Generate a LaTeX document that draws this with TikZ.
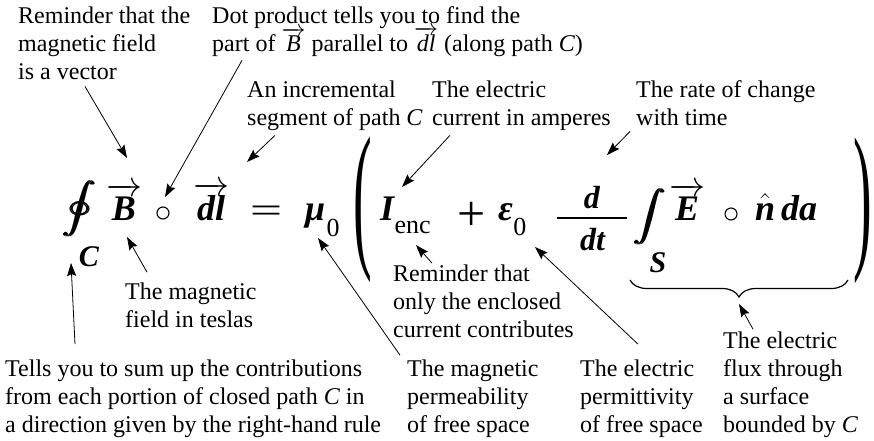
\RequirePackage{fix-cm}
\documentclass[tikz,border=0pt]{standalone}
\usepackage{amsmath}
\usepackage{graphicx}
\usepackage{fontspec}
\setmainfont{Liberation Serif}
\usepackage{tikz}
\usetikzlibrary{arrows.meta,calc,decorations.pathreplacing}

\newcommand{\notesize}{\fontsize{24}{28}\selectfont}
\newcommand{\eqsize}{\fontsize{36}{40}\selectfont}
\newcommand{\idxsize}{\fontsize{26}{28}\selectfont}
\newcommand{\bfit}[1]{\textbf{\textit{#1}}}

\begin{document}
\begin{tikzpicture}[x=1pt, y=-1pt, >={Stealth[length=13pt,width=9pt,inset=2pt]},
  note/.style={font=\notesize, align=left, inner sep=0pt, anchor=base west},
  sym/.style={font=\eqsize, inner sep=0pt, anchor=base},
  idx/.style={font=\idxsize, inner sep=0pt, anchor=base west},
  ring/.style={circle, draw, line width=1.1pt, minimum size=12pt, inner sep=0pt},
  call/.style={->, line width=0.8pt},
]
\useasboundingbox (0,0) rectangle (874,441);

% the equation
\node[inner sep=0pt, font=\fontsize{33}{36}\selectfont] (oint) at (80,209) {\scalebox{1.35}[1]{$\displaystyle\pmb{\oint}$}};
\node[sym, font=\fontsize{30}{32}\selectfont] (C) at (89,266) {\bfit{C}};
\node[sym] (B) at (124,220) {$\overrightarrow{\mbox{\bfit{B}}}$};
\node[ring] (dot1) at (163,213) {};
\node[sym] (dl) at (211,220) {$\overrightarrow{\mbox{\bfit{dl}}}$};
\node[inner sep=0pt] (eq) at (266,214) {\scalebox{1.6}[1]{\eqsize=}};
\node[sym, anchor=base west] (mu) at (305,220) {\bfit{μ}};
\node[idx] (mu0) at ($(mu.base east)+(1,16)$) {0};
\node[inner sep=0pt] (lpar) at (363,210) {\scalebox{0.8}[2.3]{\fontsize{70}{70}\selectfont(}};
\node[sym, anchor=base west] (I) at (380,220) {\bfit{I}};
\node[idx] (enc) at ($(I.base east)+(-1,13)$) {enc};
\node[inner sep=0pt, font=\fontsize{50}{50}\selectfont] (plus) at (472,216) {+};
\node[sym, anchor=base west] (eps) at (498,220) {\bfit{ε}};
\node[idx] (eps0) at ($(eps.base east)+(0,15)$) {0};
\node[sym, font=\fontsize{32}{34}\selectfont] (dnum) at (592,208) {\bfit{d}};
\node[inner sep=0pt] (bar) at (592,218) {\rule{70pt}{1.5pt}};
\node[sym, font=\fontsize{32}{34}\selectfont] (dden) at (593,250) {\bfit{dt}};
\node[inner sep=0pt, font=\fontsize{35}{38}\selectfont] (int) at (651,217) {\scalebox{1.3}[1]{$\displaystyle\pmb{\int}$}};
\node[sym, font=\fontsize{30}{32}\selectfont] (S) at (658,272) {\bfit{S}};
\node[sym] (E) at (687,220) {$\overrightarrow{\mbox{\bfit{E}}}$};
\node[ring] (dot2) at (731,214) {};
\node[sym] (nhat) at (765,220) {$\hat{\mbox{\bfit{n}}}$};
\node[sym, anchor=base west] (da) at (781,220) {\bfit{da}};
\node[inner sep=0pt] (rpar) at (863,211) {\scalebox{0.8}[2.3]{\fontsize{70}{70}\selectfont)}};

% brace under the flux term
\coordinate (bl) at (630,280);
\coordinate (br) at (848,280);
\coordinate (bt) at (739,298);
\draw[decorate, decoration={brace, mirror, amplitude=17pt}, line width=1.2pt] (bl) -- (br);

% notes (anchored at the baseline of their last line)
\node[note] (remind) at (18,80) {Reminder that the\\magnetic field\\is a vector};
\node[note] (dotprod) at (212,52) {Dot product tells you to find the\\part of $\smash{\overrightarrow{\mbox{\itshape B}}}$ parallel to $\smash{\overrightarrow{\mbox{\itshape dl}}}$ (along path \textit{C})};
\node[note] (incr) at (247,125) {An incremental\\segment of path \textit{C}};
\node[note] (curr) at (432,125) {The electric\\current in amperes};
\node[note] (rate) at (636,125) {The rate of change\\with time};
\node[note] (magB) at (125,327) {The magnetic\\field in teslas};
\node[note] (encl) at (393,337) {Reminder that\\only the enclosed\\current contributes};
\node[note] (tells) at (5,432) {Tells you to sum up the contributions\\from each portion of closed path \textit{C} in\\a direction given by the right-hand rule};
\node[note] (permea) at (407,432) {The magnetic\\permeability\\of free space};
\node[note] (permit) at (580,432) {The electric\\permittivity\\of free space};
\node[note] (flux) at (723,432) {The electric\\flux through\\a surface\\bounded by \textit{C}};

% callouts
\draw[call] ($(remind.south west)+(67,6)$) -- ($(B.base)+(3,-62)$);
\draw[call] ($(dotprod.south west)+(30,3)$) -- ($(dot1.center)+(2,-16)$);
\draw[call] ($(incr.south west)+(28,5)$) -- ($(dl.base)+(36,-58)$);
\draw[call] ($(curr.south west)+(18,5)$) -- ($(I.base west)+(22,-33)$);
\draw[call] ($(rate.south west)+(-6,6)$) -- ($(dnum.base)+(15,-53)$);
\draw[call] ($(magB.north west)+(22,-10)$) -- ($(B.base)+(3,17)$);
\draw[call] ($(tells.north west)+(70,-15)$) -- ($(C.base)+(-18,-3)$);
\draw[call] ($(permea.north west)+(-7,-4)$) -- ($(mu.base west)+(13,18)$);
\draw[call] ($(encl.north west)+(39,-1)$) -- ($(I.base west)+(36,25)$);
\draw[call] ($(permit.north west)+(58,-15)$) -- ($(eps.base west)+(37,27)$);
\draw[call] ($(flux.north west)+(30,-2)$) -- ($(bt)+(0,6)$);
\end{tikzpicture}
\end{document}
